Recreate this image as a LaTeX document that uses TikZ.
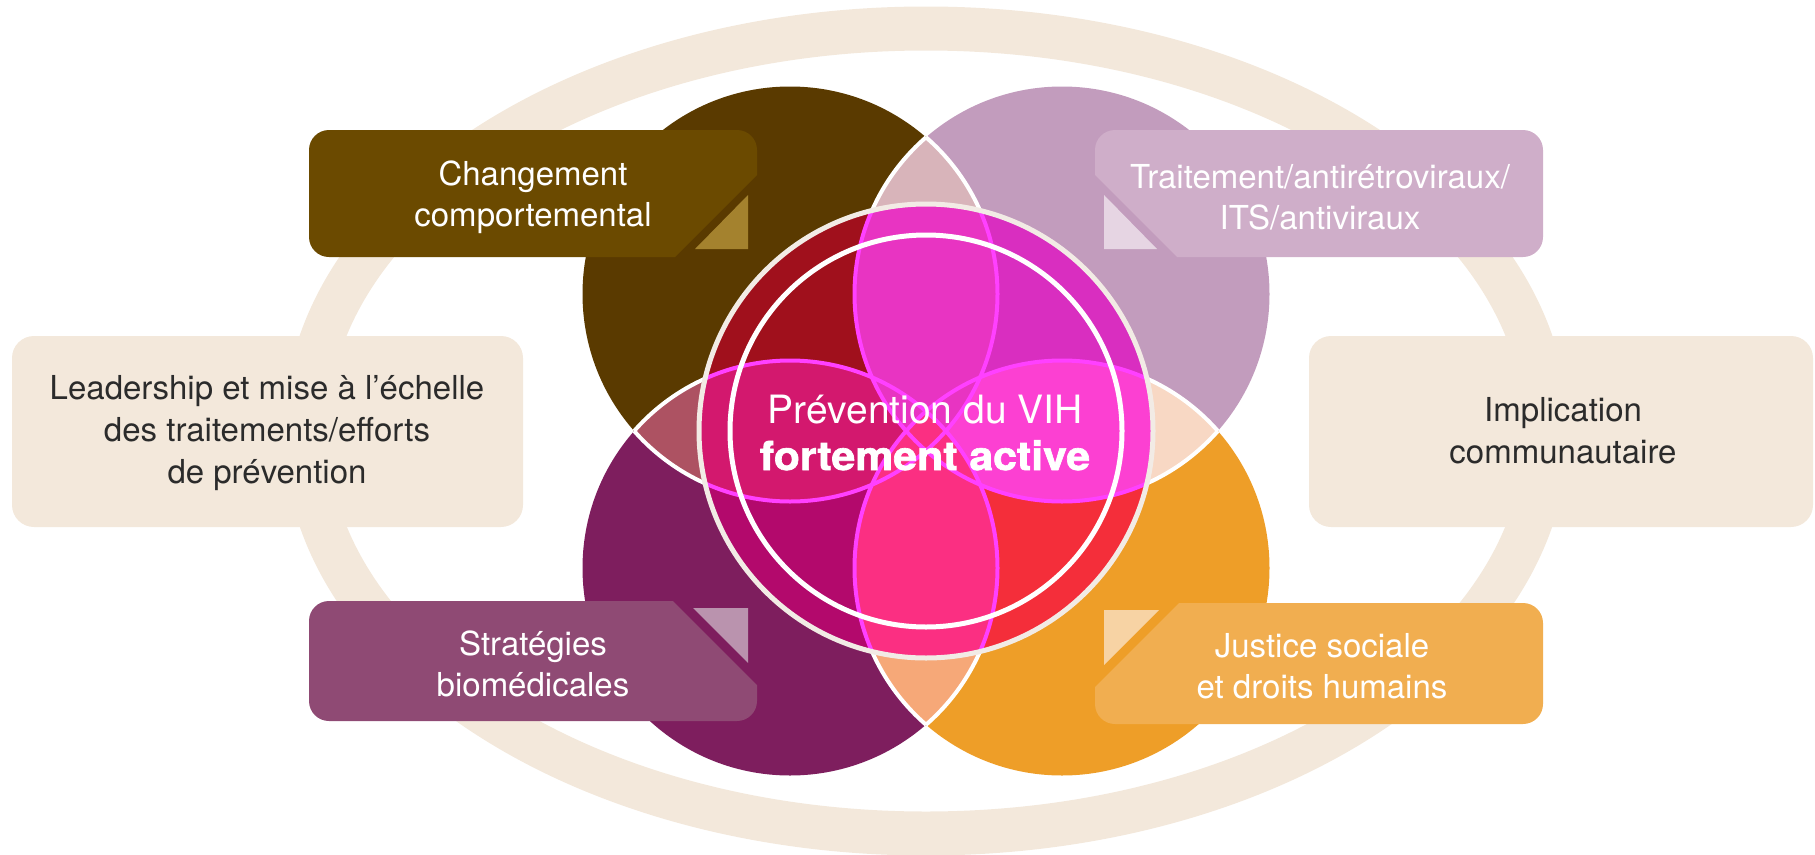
\documentclass[tikz,border=0pt]{standalone}
\usepackage{fontspec}
\setmainfont{TeX Gyre Heros}
\newfontfamily\heavyfont{TeX Gyre Heros}[BoldFeatures={FakeBold=1.6}]
\definecolor{ringC}{HTML}{F3E8DB}
\definecolor{circTL}{HTML}{5A3A00}
\definecolor{circTR}{HTML}{C29CBD}
\definecolor{circBL}{HTML}{7E1E5E}
\definecolor{circBR}{HTML}{EE9E28}
\definecolor{lensTop}{HTML}{D8B4BA}
\definecolor{lensLeft}{HTML}{AD5262}
\definecolor{lensRight}{HTML}{F8D8C4}
\definecolor{lensBottom}{HTML}{F6A878}
\definecolor{inTL}{HTML}{A0101C}
\definecolor{inTR}{HTML}{D92EC0}
\definecolor{inBL}{HTML}{B3096C}
\definecolor{inBR}{HTML}{F42E3A}
\definecolor{petTop}{HTML}{E834C2}
\definecolor{petLeft}{HTML}{D3186E}
\definecolor{petRight}{HTML}{FC40D2}
\definecolor{petBottom}{HTML}{FB2F82}
\definecolor{magLine}{HTML}{FF40FF}
\definecolor{boxTL}{HTML}{6B4A00}
\definecolor{triTL}{HTML}{A4822E}
\definecolor{boxTR}{HTML}{CFAEC9}
\definecolor{triTR}{HTML}{E6D5E3}
\definecolor{boxBL}{HTML}{8F4A74}
\definecolor{triBL}{HTML}{BA93AE}
\definecolor{boxBR}{HTML}{F1AE50}
\definecolor{triBR}{HTML}{F7D3A4}
\definecolor{rimC}{HTML}{F2EBE5}
\definecolor{darkText}{HTML}{2B2B2B}
\begin{document}
\begin{tikzpicture}[x=1pt,y=1pt,yscale=-1,
  bigR/.style={radius=207.5pt},
  boxtext/.style={text=white,align=center,inner sep=0pt,
    font=\fontsize{33}{41}\selectfont},
  sidetext/.style={text=darkText,align=center,inner sep=0pt,
    font=\fontsize{33}{42}\selectfont},
  whiteline/.style={draw=white,line width=4pt},
  magline/.style={draw=magLine,line width=4pt}]
\useasboundingbox (0,0) rectangle (1815,854);

% centres of the four large discs and of the core
\coordinate (O) at (926,431);
\coordinate (TL) at (790,294);
\coordinate (TR) at (1062,294);
\coordinate (BL) at (790,568);
\coordinate (BR) at (1062,568);

% surrounding ring
\draw[ringC,line width=44pt] (O) ellipse [x radius=620.5pt, y radius=402.5pt];

% large discs
\fill[circTL] (TL) circle[bigR];
\fill[circTR] (TR) circle[bigR];
\fill[circBL] (BL) circle[bigR];
\fill[circBR] (BR) circle[bigR];

% pale lenses where neighbouring discs overlap
\begin{scope}\clip (TL) circle[bigR]; \fill[lensTop] (TR) circle[bigR];\end{scope}
\begin{scope}\clip (TL) circle[bigR]; \fill[lensLeft] (BL) circle[bigR];\end{scope}
\begin{scope}\clip (TR) circle[bigR]; \fill[lensRight] (BR) circle[bigR];\end{scope}
\begin{scope}\clip (BL) circle[bigR]; \fill[lensBottom] (BR) circle[bigR];\end{scope}

% white edges of the lenses
\begin{scope}\clip (TR) circle[bigR]; \path[whiteline] (TL) circle[bigR];\end{scope}
\begin{scope}\clip (TL) circle[bigR]; \path[whiteline] (TR) circle[bigR];\end{scope}
\begin{scope}\clip (BL) circle[bigR]; \path[whiteline] (TL) circle[bigR];\end{scope}
\begin{scope}\clip (TL) circle[bigR]; \path[whiteline] (BL) circle[bigR];\end{scope}
\begin{scope}\clip (BR) circle[bigR]; \path[whiteline] (TR) circle[bigR];\end{scope}
\begin{scope}\clip (TR) circle[bigR]; \path[whiteline] (BR) circle[bigR];\end{scope}
\begin{scope}\clip (BR) circle[bigR]; \path[whiteline] (BL) circle[bigR];\end{scope}
\begin{scope}\clip (BL) circle[bigR]; \path[whiteline] (BR) circle[bigR];\end{scope}

% vivid core
\begin{scope}
  \clip (O) circle[radius=227pt];
  \fill[inTL] (TL) circle[bigR];
  \fill[inTR] (TR) circle[bigR];
  \fill[inBL] (BL) circle[bigR];
  \fill[inBR] (BR) circle[bigR];
  \begin{scope}\clip (TL) circle[bigR]; \fill[petLeft] (BL) circle[bigR];\end{scope}
  \begin{scope}\clip (TR) circle[bigR]; \fill[petRight] (BR) circle[bigR];\end{scope}
  \begin{scope}\clip (TL) circle[bigR]; \fill[petTop] (TR) circle[bigR];\end{scope}
  \begin{scope}\clip (BL) circle[bigR]; \fill[petBottom] (BR) circle[bigR];\end{scope}
  \path[magline] (TL) circle[bigR];
  \path[magline] (TR) circle[bigR];
  \path[magline] (BL) circle[bigR];
  \path[magline] (BR) circle[bigR];
\end{scope}
\draw[rimC,line width=5pt] (O) circle[radius=227pt];
\draw[white,line width=5pt] (O) circle[radius=196pt];

\node[text=white,anchor=base,inner sep=0pt,font=\fontsize{39}{39}\selectfont]
  (core1) at (925,423) {Prévention du VIH};
\node[text=white,anchor=base,inner sep=0pt,font=\fontsize{40}{40}\heavyfont\bfseries]
  (core2) at (925,470) {\scalebox{1.07}[1]{fortement active}};

% top-left label box
\begin{scope}
  \clip (300,120) -- (770,120) -- (770,162) -- (665,267) -- (300,267) -- cycle;
  \fill[boxTL,rounded corners=20pt] (309,130) rectangle (757,257);
\end{scope}
\fill[triTL] (748,195) -- (748,249) -- (695,249) -- cycle;
\node[boxtext] (tl) at (533,197) {Changement\\comportemental};

% top-right label box
\begin{scope}
  \clip (1082,120) -- (1560,120) -- (1560,267) -- (1187,267) -- (1082,162) -- cycle;
  \fill[boxTR,rounded corners=20pt] (1095,130) rectangle (1543,257);
\end{scope}
\fill[triTR] (1104,195) -- (1104,249) -- (1157,249) -- cycle;
\node[boxtext] (tr) at (1320,197) {Traitement/antirétroviraux/\\ITS/antiviraux};

% bottom-left label box
\begin{scope}
  \clip (300,590) -- (662,590) -- (770,698) -- (770,735) -- (300,735) -- cycle;
  \fill[boxBL,rounded corners=20pt] (309,601) rectangle (757,721);
\end{scope}
\fill[triBL] (693,608) -- (748,608) -- (748,663) -- cycle;
\node[boxtext] (bl) at (533,664) {Stratégies\\biomédicales};

% bottom-right label box
\begin{scope}
  \clip (1190,592) -- (1560,592) -- (1560,735) -- (1082,735) -- (1082,700) -- cycle;
  \fill[boxBR,rounded corners=20pt] (1095,603) rectangle (1543,724);
\end{scope}
\fill[triBR] (1104,610) -- (1159,610) -- (1104,665) -- cycle;
\node[boxtext] (br) at (1322,666) {Justice sociale\\et droits humains};

% side boxes
\fill[ringC,rounded corners=22pt] (12,336) rectangle (523,527);
\node[sidetext] (lead) at (267,433) {Leadership et mise à l’échelle\\des traitements/efforts\\de prévention};
\fill[ringC,rounded corners=22pt] (1309,336) rectangle (1813,527);
\node[sidetext] (impl) at (1563,431) {Implication\\communautaire};
\end{tikzpicture}
\end{document}
